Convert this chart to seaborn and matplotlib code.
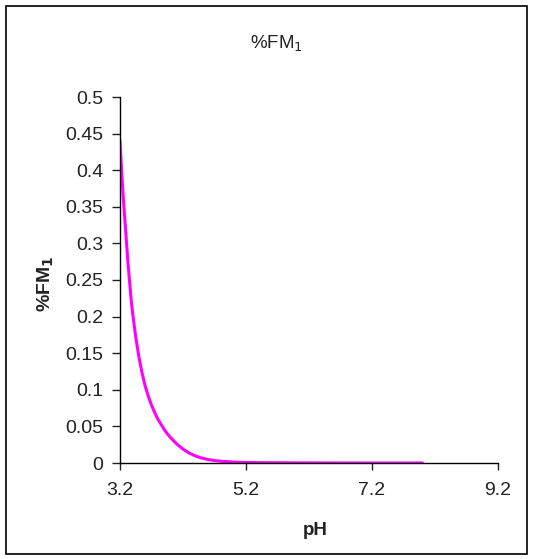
import matplotlib
matplotlib.use("Agg")
import matplotlib.pyplot as plt
import seaborn as sns
import pandas as pd
from matplotlib.patches import Rectangle

# values
ph = [3.2, 3.225, 3.25, 3.275, 3.3, 3.325, 3.35, 3.375, 3.4, 3.45, 3.5, 3.55,
      3.6, 3.65, 3.7, 3.75, 3.8, 3.85, 3.9, 3.95, 4.0, 4.1, 4.2, 4.3, 4.4,
      4.5, 4.6, 4.7, 4.8, 5.0, 5.2, 5.5, 6.0, 7.0, 8.0]
fm1 = [0.44, 0.40, 0.365, 0.335, 0.305, 0.275, 0.25, 0.225, 0.205, 0.172,
       0.145, 0.123, 0.105, 0.091, 0.079, 0.069, 0.060, 0.053, 0.046, 0.040,
       0.035, 0.026, 0.019, 0.0135, 0.0095, 0.0067, 0.0047, 0.0033, 0.0024,
       0.0012, 0.0007, 0.0004, 0.0002, 0.0, 0.0]
x_ticks = [3.2, 5.2, 7.2, 9.2]
y_ticks = [0, 0.05, 0.1, 0.15, 0.2, 0.25, 0.3, 0.35, 0.4, 0.45, 0.5]
y_ticklabels = ["0", "0.05", "0.1", "0.15", "0.2", "0.25", "0.3", "0.35", "0.4", "0.45", "0.5"]

df = pd.DataFrame({"pH": ph, "FM1": fm1})

sns.set_style("ticks")
plt.rcParams["font.family"] = ["Liberation Sans", "DejaVu Sans"]

fig = plt.figure(figsize=(5.33, 5.59), dpi=100)
ax = fig.add_axes([120 / 533, 1 - 463 / 559, 378 / 533, 366 / 559])

sns.lineplot(data=df, x="pH", y="FM1", color="#FF00FF", linewidth=2.2, ax=ax)

ax.set_xlim(3.2, 9.2)
ax.set_ylim(0, 0.5)
ax.set_xticks(x_ticks)
ax.set_xticklabels([str(t) for t in x_ticks])
ax.set_yticks(y_ticks)
ax.set_yticklabels(y_ticklabels)
ax.tick_params(labelsize=14, colors="#222222", width=1, direction="out")
ax.tick_params(axis="y", length=6, pad=6)
ax.tick_params(axis="x", length=5, pad=9)
for s in ["top", "right"]:
    ax.spines[s].set_visible(False)
for s in ["left", "bottom"]:
    ax.spines[s].set_linewidth(1)
    ax.spines[s].set_color("black")

ax.set_xlabel("pH", fontsize=13.5, fontweight="bold", color="#222222")
ax.xaxis.set_label_coords(0.516, -0.161)
ax.set_ylabel("%FM$_\\mathbf{1}$", fontsize=14, fontweight="bold", color="#222222")
ax.yaxis.set_label_coords(-0.17, 0.49)

fig.text(277 / 533, 1 - 44 / 559, "%FM$_1$", fontsize=13.5, ha="center",
         va="center", color="#222222")

# chart border
fig.patches.append(Rectangle((6 / 533, 5 / 559), 521 / 533, 548 / 559,
                             transform=fig.transFigure, fill=False,
                             edgecolor="black", linewidth=1.2))

fig.savefig("out.png", dpi=100)
